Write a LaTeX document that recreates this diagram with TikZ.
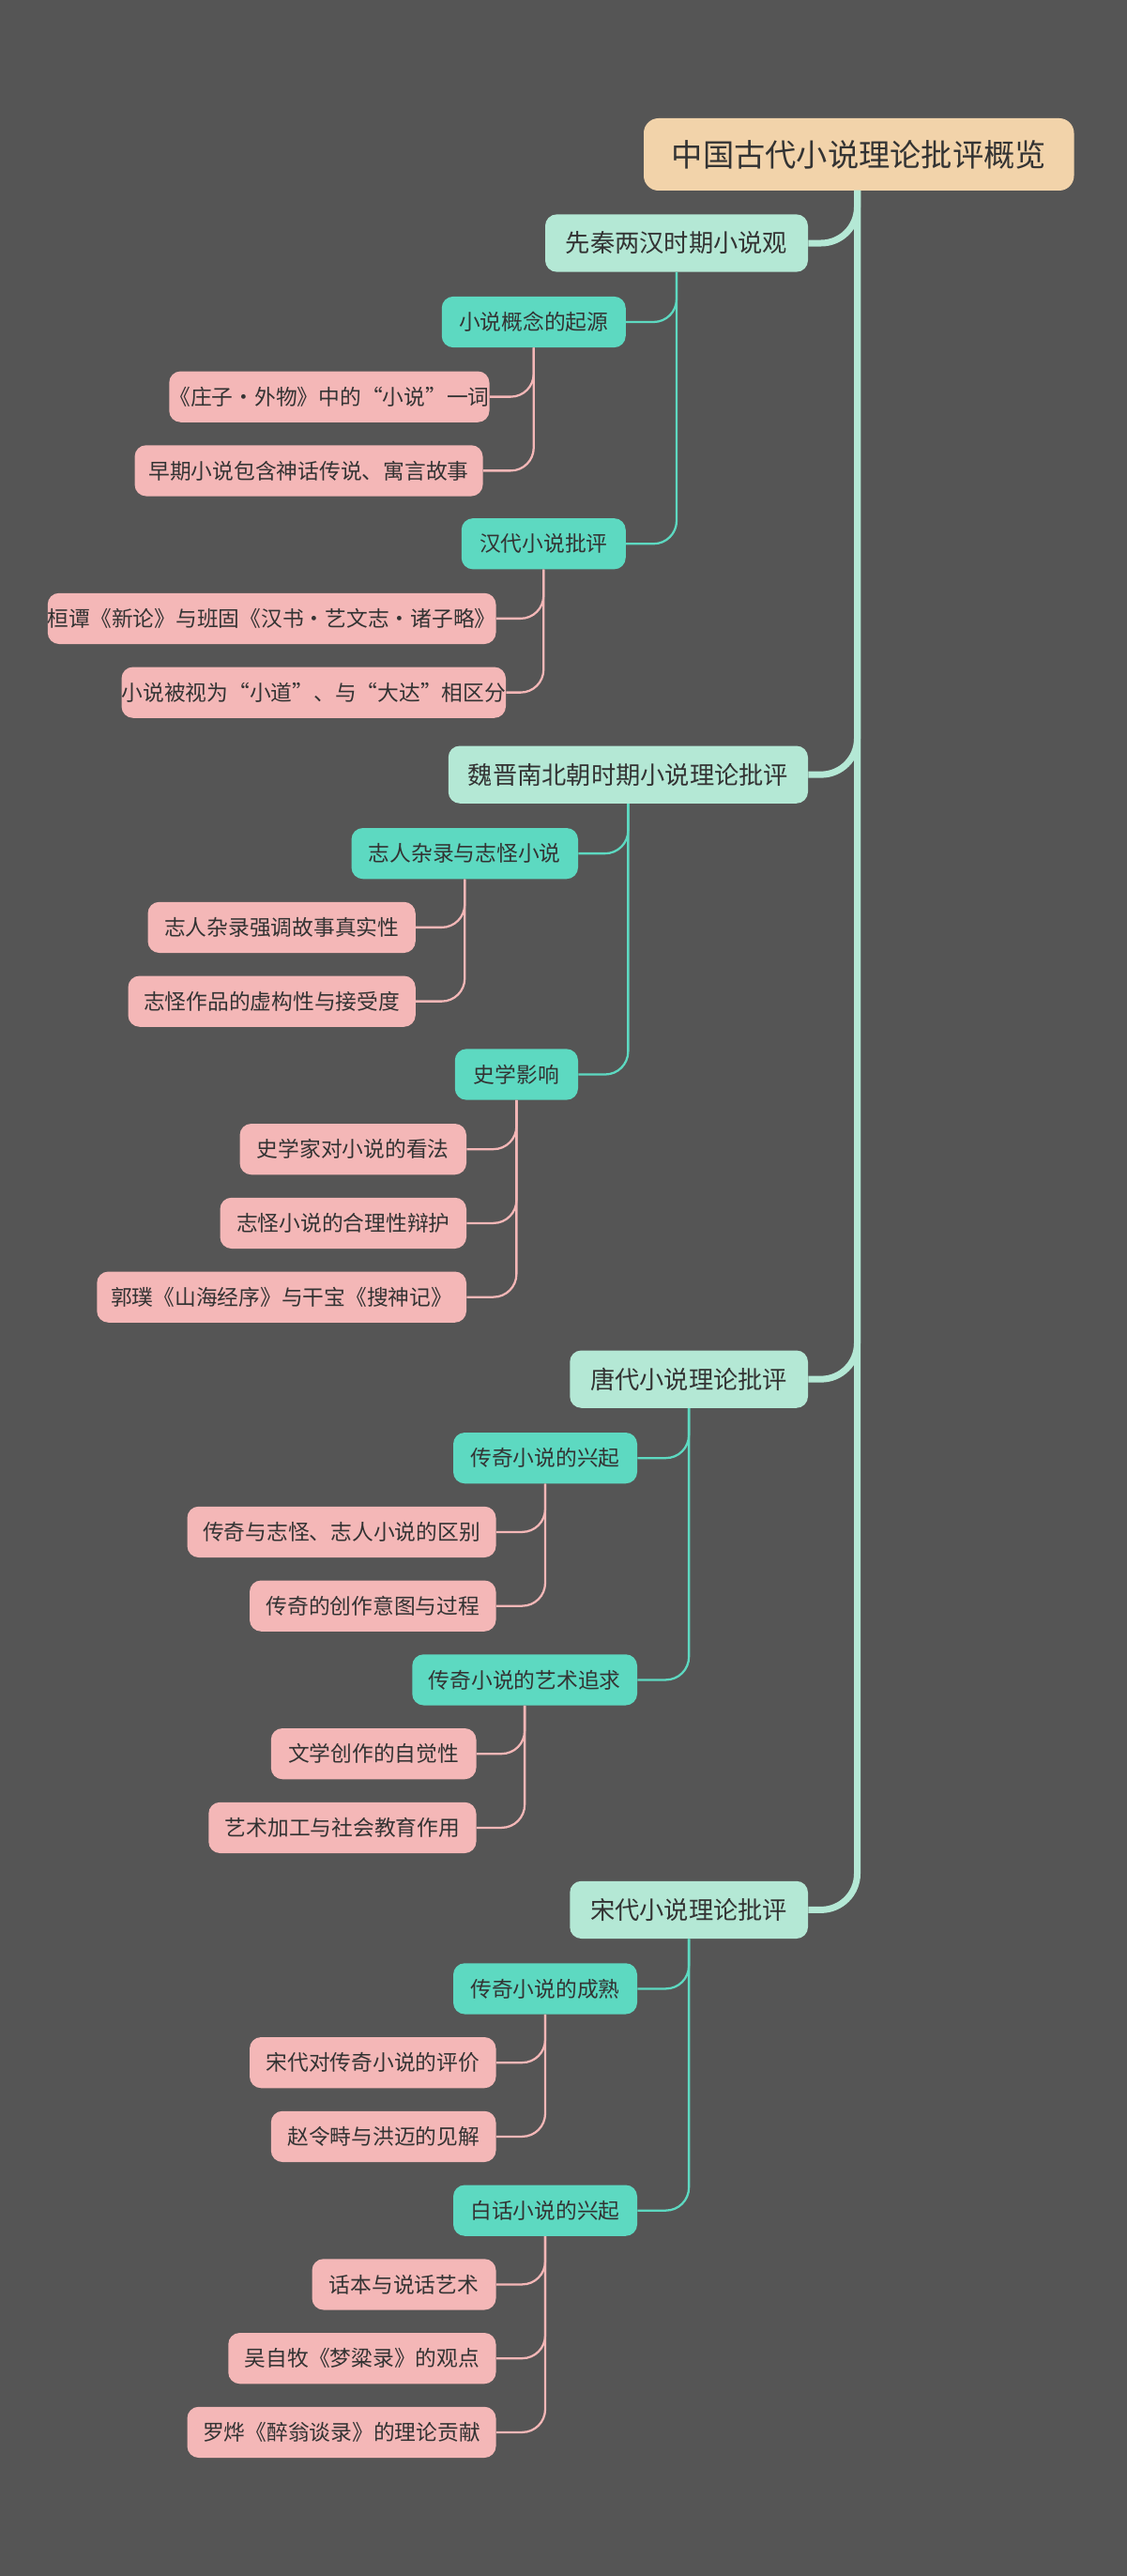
\documentclass[tikz,border=0pt]{standalone}
\usepackage{fontspec}
\setmainfont{Noto Sans CJK SC}
\begin{document}
\begin{tikzpicture}[x=1pt,y=-1pt,
 base/.style={rounded corners=7pt,inner sep=0pt,text=black!80,align=center},
 r0/.style={base,fill=rootc,font=\fontsize{19}{22}\selectfont,minimum height=44pt,rounded corners=9pt},
 l1/.style={base,fill=l1c,font=\fontsize{15}{18}\selectfont,minimum height=35pt},
 l2/.style={base,fill=l2c,font=\fontsize{13}{16}\selectfont,minimum height=31pt},
 l3/.style={base,fill=l3c,font=\fontsize{13}{16}\selectfont,minimum height=31pt},
 e0/.style={draw=l1c,line width=4pt,rounded corners=22pt},
 e1/.style={draw=l2c,line width=1.3pt,rounded corners=14pt},
 e2/.style={draw=l3c,line width=1.3pt,rounded corners=14pt}]
\definecolor{rootc}{HTML}{F2D3AA}
\definecolor{l1c}{HTML}{B4E8D5}
\definecolor{l2c}{HTML}{5DD9C1}
\definecolor{l3c}{HTML}{F4B7B7}
\fill[fill={rgb,255:red,85;green,85;blue,85}] (0,0) rectangle (686,1568);
\useasboundingbox (0,0) rectangle (686,1568);
\node[r0,minimum width=262pt] (root) at (523,94) {中国古代小说理论批评概览};
\coordinate (rs) at (522,116);
\node[l1,minimum width=160pt] (a) at (412,148) {先秦两汉时期小说观};
\node[l1,minimum width=219pt] (b) at (382.5,471.5) {魏晋南北朝时期小说理论批评};
\node[l1,minimum width=145pt] (c) at (419.5,839.5) {唐代小说理论批评};
\node[l1,minimum width=145pt] (d) at (419.5,1162.5) {宋代小说理论批评};
\node[l2,minimum width=112pt] (a1) at (325,196) {小说概念的起源};
\node[l2,minimum width=100pt] (a2) at (331,331) {汉代小说批评};
\node[l2,minimum width=138pt] (b1) at (283,519.5) {志人杂录与志怪小说};
\node[l2,minimum width=75pt] (b2) at (314.5,654) {史学影响};
\node[l2,minimum width=112pt] (c1) at (332,887.5) {传奇小说的兴起};
\node[l2,minimum width=137pt] (c2) at (319.5,1022.5) {传奇小说的艺术追求};
\node[l2,minimum width=112pt] (d1) at (332,1210.5) {传奇小说的成熟};
\node[l2,minimum width=112pt] (d2) at (332,1345.5) {白话小说的兴起};
\node[l3,minimum width=187pt] (a11) at (200.5,241.5) {《庄子·外物》中的“小说”一词};
\node[l3,minimum width=212pt] (a12) at (188,286.5) {早期小说包含神话传说、寓言故事};
\node[l3,minimum width=269pt] (a21) at (165.5,376.5) {桓谭《新论》与班固《汉书·艺文志·诸子略》};
\node[l3,minimum width=218pt] (a22) at (191,421.5) {小说被视为“小道”、与“大达”相区分};
\node[l3,minimum width=163pt] (b11) at (171.5,564.5) {志人杂录强调故事真实性};
\node[l3,minimum width=175pt] (b12) at (165.5,609.5) {志怪作品的虚构性与接受度};
\node[l3,minimum width=138pt] (b21) at (215,699.5) {史学家对小说的看法};
\node[l3,minimum width=150pt] (b22) at (209,744.5) {志怪小说的合理性辩护};
\node[l3,minimum width=225pt] (b23) at (171.5,789.5) {郭璞《山海经序》与干宝《搜神记》};
\node[l3,minimum width=188pt] (c11) at (208,932.5) {传奇与志怪、志人小说的区别};
\node[l3,minimum width=150pt] (c12) at (227,977.5) {传奇的创作意图与过程};
\node[l3,minimum width=125pt] (c21) at (227.5,1067.5) {文学创作的自觉性};
\node[l3,minimum width=163pt] (c22) at (208.5,1112.5) {艺术加工与社会教育作用};
\node[l3,minimum width=150pt] (d11) at (227,1255.5) {宋代对传奇小说的评价};
\node[l3,minimum width=137pt] (d12) at (233.5,1300.5) {赵令畤与洪迈的见解};
\node[l3,minimum width=112pt] (d21) at (246,1390.5) {话本与说话艺术};
\node[l3,minimum width=163pt] (d22) at (220.5,1435.5) {吴自牧《梦粱录》的观点};
\node[l3,minimum width=188pt] (d23) at (208,1480.5) {罗烨《醉翁谈录》的理论贡献};
\foreach \n in {a,b,c,d} \draw[e0] (rs) |- (\n.east);
\foreach \p/\n in {a/a1,a/a2,b/b1,b/b2,c/c1,c/c2,d/d1,d/d2} \draw[e1] (\p.south) |- (\n.east);
\foreach \p/\n in {a1/a11,a1/a12,a2/a21,a2/a22,b1/b11,b1/b12,b2/b21,b2/b22,b2/b23,c1/c11,c1/c12,c2/c21,c2/c22,d1/d11,d1/d12,d2/d21,d2/d22,d2/d23} \draw[e2] (\p.south) |- (\n.east);
\end{tikzpicture}
\end{document}
